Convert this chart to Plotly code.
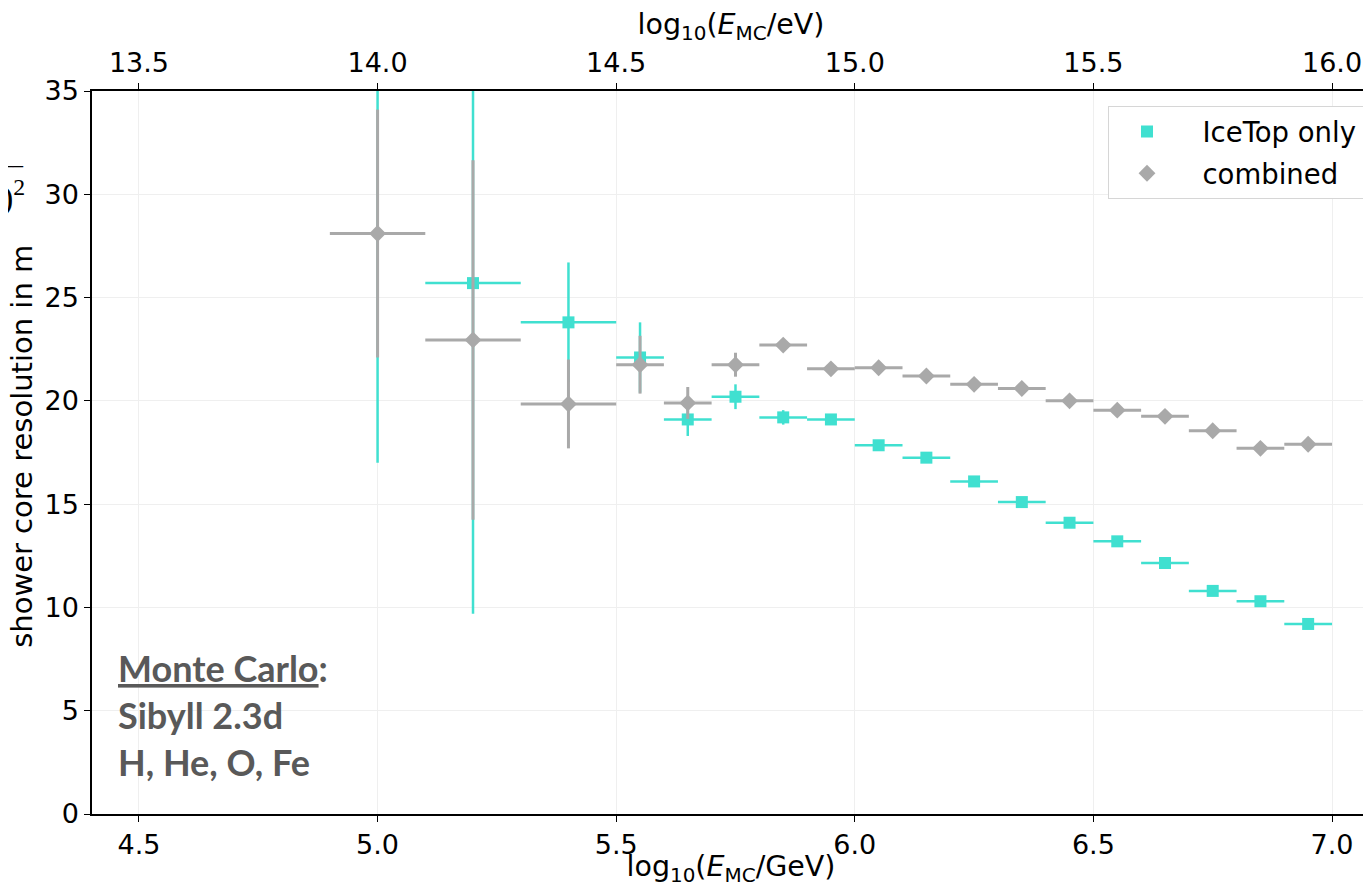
import plotly.graph_objects as go

# bin centres in log10(E/GeV)
energy = [5.0, 5.2, 5.4, 5.55, 5.65, 5.75, 5.85, 5.95, 6.05, 6.15, 6.25,
          6.35, 6.45, 6.55, 6.65, 6.75, 6.85, 6.95]
energy_halfwidth = [0.1, 0.1, 0.1, 0.05, 0.05, 0.05, 0.05, 0.05, 0.05, 0.05,
                    0.05, 0.05, 0.05, 0.05, 0.05, 0.05, 0.05, 0.05]

# IceTop only
icetop_res = [38.0, 25.7, 23.8, 22.1, 19.1, 20.2, 19.2, 19.1, 17.85, 17.25,
              16.1, 15.1, 14.1, 13.2, 12.15, 10.8, 10.3, 9.2]
icetop_err = [21.0, 16.0, 2.9, 1.7, 0.8, 0.6, 0.35, 0.25, 0.2, 0.2, 0.15,
              0.15, 0.15, 0.15, 0.15, 0.15, 0.15, 0.15]

# combined
combined_res = [28.1, 22.95, 19.85, 21.75, 19.9, 21.75, 22.7, 21.55, 21.6,
                21.2, 20.8, 20.6, 20.0, 19.55, 19.25, 18.55, 17.7, 17.9]
combined_err = [6.0, 8.7, 2.15, 1.4, 0.77, 0.58, 0.3, 0.25, 0.2, 0.2, 0.15,
                0.15, 0.15, 0.15, 0.15, 0.15, 0.15, 0.15]

x_ticks = [4.5, 5.0, 5.5, 6.0, 6.5, 7.0]
top_ticks = [13.5, 14.0, 14.5, 15.0, 15.5, 16.0]
y_ticks = [0, 5, 10, 15, 20, 25, 30, 35]

TURQ = "#40E0D0"
GRAY = "#A9A9A9"
FONT = "DejaVu Sans"
X_RANGE = [4.4016, 7.0796]
NB = "\u00a0"

fig = go.Figure()
fig.add_trace(go.Scatter(
    x=energy, y=icetop_res, mode="markers", name=NB * 2 + "IceTop only" + NB,
    legendgroup="icetop",
    marker=dict(symbol="square", size=12, color=TURQ),
    error_x=dict(type="data", array=energy_halfwidth, color=TURQ, thickness=2.5, width=0),
    error_y=dict(type="data", array=icetop_err, color=TURQ, thickness=2.5, width=0),
))
fig.add_trace(go.Scatter(
    x=energy, y=combined_res, mode="markers", name=NB * 2 + "combined",
    legendgroup="combined",
    marker=dict(symbol="diamond", size=13, color=GRAY),
    error_x=dict(type="data", array=energy_halfwidth, color=GRAY, thickness=3, width=0),
    error_y=dict(type="data", array=combined_err, color=GRAY, thickness=3, width=0),
))
# empty trace so the eV axis on top gets drawn
fig.add_trace(go.Scatter(x=[], y=[], xaxis="x2", showlegend=False, hoverinfo="skip"))

axis_common = dict(
    showline=True, linecolor="black", linewidth=1.5,
    ticks="outside", ticklen=6, tickcolor="black",
    showgrid=True, gridcolor="#efefef", gridwidth=1, zeroline=False,
    tickfont=dict(family=FONT, size=27, color="black"),
)

# the page body adds 8px, so the figure is 8px smaller than the window
fig.update_layout(
    width=1363, height=879,
    margin=dict(l=84, r=0, t=83, b=73),
    paper_bgcolor="white", plot_bgcolor="white",
    font=dict(family=FONT, color="black"),
    xaxis=dict(
        range=X_RANGE, tickvals=x_ticks, ticktext=[f"{v:.1f}" for v in x_ticks],
        title=dict(text="log<sub>10</sub>(<i>E</i><sub>MC</sub>/GeV)",
                   font=dict(family=FONT, size=28.5), standoff=4),
        **axis_common,
    ),
    xaxis2=dict(
        overlaying="x", side="top", anchor="y",
        range=[X_RANGE[0] + 9, X_RANGE[1] + 9],
        tickvals=top_ticks, ticktext=[f"{v:.1f}" for v in top_ticks],
        title=dict(text="log<sub>10</sub>(<i>E</i><sub>MC</sub>/eV)",
                   font=dict(family=FONT, size=28.5), standoff=4),
        **{**axis_common, "showgrid": False},
    ),
    yaxis=dict(
        range=[0, 35], tickvals=y_ticks,
        **axis_common,
    ),
    legend=dict(
        x=1.0008, xanchor="right", y=0.979, yanchor="top",
        bgcolor="white", bordercolor="#d6d6d6", borderwidth=1,
        font=dict(family=FONT, size=27.5, color="black"),
        itemwidth=66, traceorder="grouped", tracegroupgap=3,
    ),
    showlegend=True,
)

# y-axis title, partly cut off at the left edge like the original
fig.add_annotation(
    text="shower core resolution in m", textangle=-90,
    xref="paper", yref="paper", x=-0.0547, y=0.508, xanchor="center", yanchor="middle",
    showarrow=False, font=dict(family=FONT, size=29, color="black"),
)
# the clipped end of the root expression above the title
fig.add_annotation(
    text=")<sup>2</sup>", xref="paper", yref="paper", x=-0.0505, y=0.855,
    xanchor="right", yanchor="middle", showarrow=False,
    font=dict(family="Liberation Serif", size=34, color="black"),
)
fig.add_annotation(
    text="\u203e\u203e\u203e\u203e", xref="paper", yref="paper", x=-0.052, y=0.885,
    xanchor="right", yanchor="middle", showarrow=False,
    font=dict(family="DejaVu Sans", size=20, color="black"),
)

fig.add_annotation(
    text="<b><u>Monte Carlo</u>:<br>Sibyll 2.3d<br>H, He, O, Fe</b>",
    xref="paper", yref="paper", x=0.019, y=0.137, xanchor="left", yanchor="middle",
    align="left", showarrow=False,
    font=dict(family="Lato", size=36, color="#595959"),
)

fig.write_html("out.html")
